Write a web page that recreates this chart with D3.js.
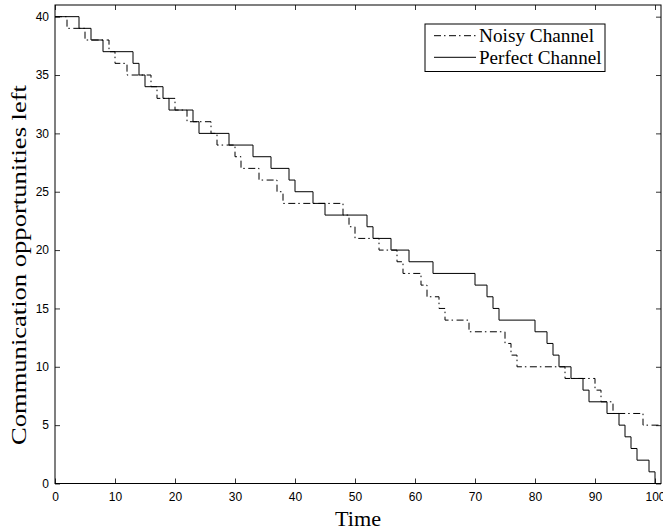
<!DOCTYPE html>
<html>
<head>
<meta charset="utf-8">
<script src="https://cdn.jsdelivr.net/npm/d3@7"></script>
<style>
  html, body { margin: 0; padding: 0; background: #fff; }
  svg { display: block; }
</style>
</head>
<body>
<svg id="chart" width="663" height="531"></svg>
<script>
// ---- data (step change points: value holds from time until next time) ----
const noisyTimes  = [0, 2, 5, 9, 10, 12, 16, 17, 20, 22, 26, 27, 30, 31, 34, 37, 38, 48, 49, 50, 54, 57, 58, 61, 62, 64, 65, 69, 75, 76, 77, 85, 90, 91, 93, 98, 101];
const noisyValues = [40, 39, 38, 37, 36, 35, 34, 33, 32, 31, 30, 29, 28, 27, 26, 25, 24, 23, 22, 21, 20, 19, 18, 17, 16, 15, 14, 13, 12, 11, 10, 9, 8, 7, 6, 5, 5];
const perfectTimes  = [0, 4, 6, 8, 13, 14, 15, 18, 19, 23, 24, 29, 33, 36, 39, 40, 43, 45, 52, 53, 56, 59, 63, 70, 72, 73, 74, 80, 82, 83, 84, 86, 88, 89, 92, 94, 95, 96, 97, 99, 100, 101];
const perfectValues = [40, 39, 38, 37, 36, 35, 34, 33, 32, 31, 30, 29, 28, 27, 26, 25, 24, 23, 22, 21, 20, 19, 18, 17, 16, 15, 14, 13, 12, 11, 10, 9, 8, 7, 6, 5, 4, 3, 2, 1, 0, 0];
const xTicks = [0, 10, 20, 30, 40, 50, 60, 70, 80, 90, 100];
const yTicks = [0, 5, 10, 15, 20, 25, 30, 35, 40];
const seriesNames = ["Noisy Channel", "Perfect Channel"];
const xLabel = "Time";
const yLabel = "Communication opportunities left";

// ---- layout ----
const svg = d3.select("#chart");
const margin = { left: 55, top: 5 };
const W = 606, H = 478.5;
const g = svg.append("g").attr("transform", `translate(${margin.left},${margin.top})`);

const x = d3.scaleLinear().domain([0, 101]).range([0, W]);
const y = d3.scaleLinear().domain([0, 41]).range([H, 0]);

const tickFont = "'Liberation Sans', Arial, Helvetica, sans-serif";
const serif = "'Liberation Serif', 'Times New Roman', Times, serif";

function styleAxis(sel, showLabels) {
  sel.select(".domain").remove();
  sel.selectAll(".tick line").attr("stroke", "#000").attr("stroke-width", 0.8);
  sel.selectAll(".tick text").attr("font-family", tickFont).attr("font-size", 12).attr("fill", "#000");
  if (!showLabels) sel.selectAll(".tick text").remove();
}

g.append("g").attr("transform", `translate(0,${H})`)
  .call(d3.axisBottom(x).tickValues(xTicks).tickSize(-5).tickPadding(9).tickFormat(d3.format("d")))
  .call(s => styleAxis(s, true));
g.append("g")
  .call(d3.axisTop(x).tickValues(xTicks).tickSize(-5))
  .call(s => styleAxis(s, false));
g.append("g")
  .call(d3.axisLeft(y).tickValues(yTicks).tickSize(-5).tickPadding(6).tickFormat(d3.format("d")))
  .call(s => styleAxis(s, true));
g.append("g").attr("transform", `translate(${W},0)`)
  .call(d3.axisRight(y).tickValues(yTicks).tickSize(-5))
  .call(s => styleAxis(s, false));

// box
g.append("rect").attr("x", 0).attr("y", 0).attr("width", W).attr("height", H)
  .attr("fill", "none").attr("stroke", "#000").attr("stroke-width", 1);

// ---- series ----
const line = d3.line().x(d => x(d[0])).y(d => y(d[1])).curve(d3.curveStepAfter);
const noisy = noisyTimes.map((t, i) => [t, noisyValues[i]]);
const perfect = perfectTimes.map((t, i) => [t, perfectValues[i]]);

g.append("path").datum(perfect).attr("d", line)
  .attr("fill", "none").attr("stroke", "#000").attr("stroke-width", 1);
g.append("path").datum(noisy).attr("d", line)
  .attr("fill", "none").attr("stroke", "#000").attr("stroke-width", 1)
  .attr("stroke-dasharray", "7,3,1.5,3.5");

// ---- labels ----
svg.append("text").attr("x", margin.left + W / 2).attr("y", 526)
  .attr("text-anchor", "middle").attr("font-family", serif).attr("font-size", 20)
  .attr("textLength", 46).attr("lengthAdjust", "spacingAndGlyphs")
  .text(xLabel);
svg.append("text")
  .attr("transform", "translate(26,265) rotate(-90)")
  .attr("text-anchor", "middle").attr("font-family", serif).attr("font-size", 20)
  .attr("textLength", 360).attr("lengthAdjust", "spacingAndGlyphs")
  .text(yLabel);

// ---- legend ----
const lg = svg.append("g").attr("transform", "translate(425,24)");
lg.append("rect").attr("x", 0).attr("y", 0).attr("width", 180).attr("height", 47.5)
  .attr("fill", "#fff").attr("stroke", "#000").attr("stroke-width", 1);
const dashes = ["7,3,1.5,3.5", null];
const legendLengths = [115, 122.5];
seriesNames.forEach((name, i) => {
  const yy = 11.7 + i * 21.6;
  const ln = lg.append("line").attr("x1", 9).attr("x2", 51).attr("y1", yy).attr("y2", yy)
    .attr("stroke", "#000").attr("stroke-width", 1);
  if (dashes[i]) ln.attr("stroke-dasharray", dashes[i]);
  lg.append("text").attr("x", 54).attr("y", yy).attr("dy", "0.35em")
    .attr("font-family", serif).attr("font-size", 19)
    .attr("textLength", legendLengths[i]).attr("lengthAdjust", "spacingAndGlyphs")
    .text(name);
});
</script>
</body>
</html>
